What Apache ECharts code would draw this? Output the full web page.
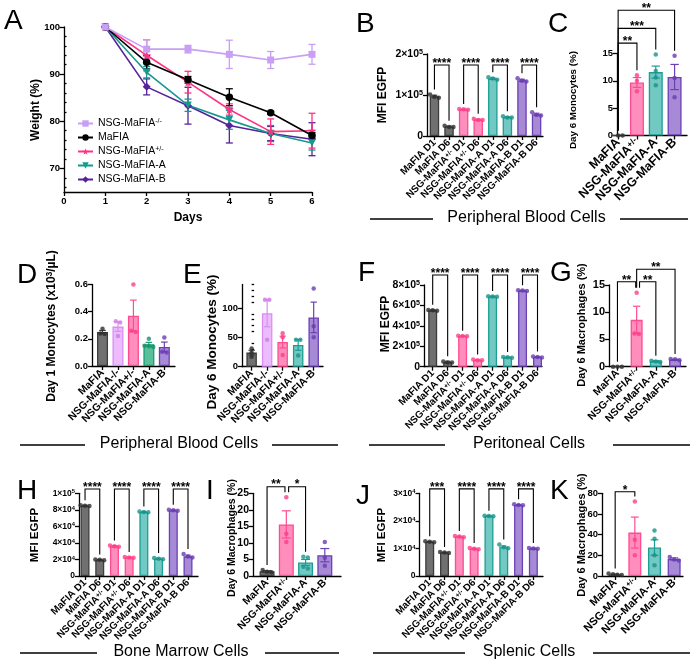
<!DOCTYPE html>
<html>
<head>
<meta charset="utf-8">
<script src="https://cdn.jsdelivr.net/npm/echarts@6/dist/echarts.min.js"></script>
<style>
  html, body { margin: 0; padding: 0; background: #fff; }
  #main { width: 691px; height: 665px; }
</style>
</head>
<body>
<div id="main"></div>
<script>
// ---- A: 体重变化 ----
const days = [1, 2, 3, 4, 5, 6];
const wKO = [100, 95.3, 95.3, 94.2, 93.0, 94.2];
const wKOErr = [0, 2.0, 0.8, 3.0, 1.8, 2.1];
const wMaFIA = [100, 92.5, 88.8, 85.1, 81.8, 77.0];
const wMaFIAErr = [0, 1.4, 0.7, 1.8, 0.3, 0.6];
const wHet = [100, 94.0, 88.3, 82.5, 77.8, 78.0];
const wHetErr = [0, 3.3, 2.3, 1.2, 2.7, 3.7];
const wA = [100, 90.4, 83.4, 80.3, 77.4, 75.4];
const wAErr = [0, 1.2, 1.3, 2.0, 1.7, 1.5];
const wB = [100, 87.3, 83.3, 79.1, 77.4, 76.2];
const wBErr = [0, 1.7, 3.9, 3.7, 1.5, 3.5];

// ---- 分类标签 ----
const catsPair = ['MaFIA D1', 'MaFIA D6', 'NSG-MaFIA{sup|+/-} D1', 'NSG-MaFIA{sup|+/-} D6',
  'NSG-MaFIA-A D1', 'NSG-MaFIA-A D6', 'NSG-MaFIA-B D1', 'NSG-MaFIA-B D6'];
const catsFour = ['MaFIA', 'NSG-MaFIA{sup|+/-}', 'NSG-MaFIA-A', 'NSG-MaFIA-B'];
const catsFive = ['MaFIA', 'NSG-MaFIA-/-', 'NSG-MaFIA+/-', 'NSG-MaFIA-A', 'NSG-MaFIA-B'];

// ---- B: 外周血 MFI ----
const pbMfiMean = [97000, 23000, 65000, 40000, 140000, 46000, 136000, 53000];
const pbMfiSem = [2400, 1000, 700, 1000, 1800, 1000, 2400, 2500];
const pbMfiDots = [[101000, 96000, 93000], [25000, 22000, 22000], [66000, 64000, 65000], [42000, 39000, 39000],
  [143000, 140000, 137000], [48000, 45000, 45000], [141000, 135000, 133000], [58000, 51000, 50000]];
const pbMfiSig = [[0, 1, 173000, '****'], [2, 3, 173000, '****'], [4, 5, 173000, '****'], [6, 7, 173000, '****']];

// ---- C: 外周血 Day6 单核细胞 ----
const pbMonoMean = [0, 9.7, 11.6, 10.7];
const pbMonoSem = [0, 0.9, 1.1, 2.3];
const pbMonoDots = [[0, 0, 0], [11.0, 10.0, 8.1], [14.8, 11.8, 10.6, 9.2], [14.6, 10.5, 7.0]];
const pbMonoSig = [[0, 1, 16.9, '**'], [0, 2, 19.6, '***'], [0, 3, 22.9, '**']];

// ---- D: Day1 单核细胞 ----
const d1MonoMean = [0.25, 0.29, 0.37, 0.16, 0.14];
const d1MonoSem = [0.012, 0.035, 0.115, 0.014, 0.036];
const d1MonoDots = [[0.275, 0.24, 0.235], [0.33, 0.32, 0.22], [0.60, 0.26, 0.25], [0.20, 0.15, 0.145, 0.14], [0.21, 0.105, 0.10]];

// ---- E: Day6 单核细胞 ----
const d6MonoMean = [24, 91, 42, 37, 84];
const d6MonoSem = [4, 23, 10, 9, 26];
const d6MonoDots = [[31, 24, 17], [114, 114, 46], [57, 50, 20], [46, 46, 19], [133, 69, 50]];

// ---- F: 腹腔 MFI ----
const ptMfiMean = [552000, 45000, 300000, 65000, 688000, 92000, 745000, 95000];
const ptMfiSem = [5000, 8000, 3000, 3000, 4000, 3000, 4000, 3000];
const ptMfiDots = [[555000, 552000, 549000], [52000, 42000, 40000], [302000, 300000, 298000], [70000, 63000, 62000],
  [690000, 688000, 686000], [96000, 92000, 88000], [748000, 745000, 742000], [99000, 95000, 91000]];
const ptMfiSig = [[0, 1, 898000, '****'], [2, 3, 898000, '****'], [4, 5, 898000, '****'], [6, 7, 898000, '****']];

// ---- G: 腹腔巨噬细胞 ----
const ptMacMean = [0, 8.6, 1.0, 1.3];
const ptMacSem = [0, 2.5, 0.1, 0.06];
const ptMacDots = [[0, 0, 0], [13.6, 6.1, 6.0], [1.1, 0.95, 0.85], [1.4, 1.35, 1.2]];
const ptMacSig = [[0, 0.95, 15.6, '**'], [1.15, 2, 15.6, '**'], [1.0, 3, 17.9, '**']];

// ---- H: 骨髓 MFI ----
const bmMfiMean = [85000, 19500, 36000, 22500, 77500, 21000, 79500, 24000];
const bmMfiSem = [500, 500, 700, 500, 400, 600, 400, 1200];
const bmMfiDots = [[85500, 85000, 84500], [20000, 19500, 19000], [37000, 36000, 35500], [23000, 22500, 22000],
  [78000, 77500, 77000], [21800, 21000, 20300], [80000, 79500, 79000], [26500, 23500, 22500]];
const bmMfiSig = [[0, 1, 105200, '****'], [2, 3, 105200, '****'], [4, 5, 105200, '****'], [6, 7, 105200, '****']];

// ---- I: 骨髓巨噬细胞 ----
const bmMacMean = [1.4, 15.6, 4.1, 6.3];
const bmMacSem = [0.2, 4.1, 0.9, 2.0];
const bmMacDots = [[1.8, 1.3, 1.1], [23.8, 12.8, 10.3], [5.8, 5.6, 2.8, 2.3], [10.3, 5.5, 3.1]];
const bmMacSig = [[0, 0.93, 27, '**'], [1.12, 2, 27, '*']];

// ---- J: 脾脏 MFI ----
const spMfiMean = [12400, 8500, 14300, 9900, 21800, 10600, 25800, 10000];
const spMfiSem = [150, 150, 150, 200, 100, 300, 100, 150];
const spMfiDots = [[12600, 12400, 12200], [8700, 8500, 8300], [14500, 14300, 14100], [10200, 9900, 9700],
  [21900, 21800, 21700], [11400, 10400, 10100], [26000, 25800, 25700], [10200, 10000, 9900]];
const spMfiSig = [[0, 1, 31600, '***'], [2, 3, 31600, '****'], [4, 5, 31600, '****'], [6, 7, 31600, '****']];

// ---- K: 脾脏巨噬细胞 ----
const spMacMean = [1.6, 42, 27.5, 16.5];
const spMacSem = [0.3, 15, 7.5, 1.0];
const spMacDots = [[2.4, 1.6, 1.2, 1.0], [72, 35, 20], [44, 36, 20, 10.5], [18.5, 16, 15]];
const spMacSig = [[0, 1, 81.5, '*']];

// ---- 样式 ----
const FONT = '"Liberation Sans", Arial, Helvetica, sans-serif';
const AXIS = { color: '#000', width: 1.3 };
const C_GRAY = ['#707070', '#3d3d3d', '#2e2e2e']; // fill, border, dot
const C_KO = ['#ecbcff', '#d98ef3', '#cf7ce8'];
const C_HET = ['#ff8ebd', '#ff4b91', '#ff3c88'];
const C_A = ['#72c8c2', '#1b9e93', '#17958b'];
const C_A2 = ['#5cbf9b', '#1a9b72', '#17936b'];
const C_B = ['#a78ad6', '#6b40b4', '#6a3cb2'];
const palPair = [C_GRAY, C_GRAY, C_HET, C_HET, C_A, C_A, C_B, C_B];
const palFour = [C_GRAY, C_HET, C_A, C_B];
const palFive = [C_GRAY, C_KO, C_HET, C_A2, C_B];

const grids = [], xAxes = [], yAxes = [], series = [], graphics = [];

function supRich(size) {
  return { sup: { fontSize: Math.max(5.5, size * 0.68), fontWeight: 'bold', fontFamily: FONT, color: '#000', verticalAlign: 'top' } };
}
function sciFmt(v) { // 1×10^5 形式
  if (v === 0) return '0';
  const e = Math.floor(Math.log10(v) + 1e-9);
  return Math.round(v / Math.pow(10, e)) + '×10{sup|' + e + '}';
}
function jitter(vals, range, unitPx) { // 点的水平散布
  const order = vals.map((v, i) => [v, i]).sort((a, b) => b[0] - a[0]);
  const off = new Array(vals.length).fill(0);
  const step = 4.4 / unitPx;
  let cl = [order[0]];
  const flush = () => { const k = cl.length; cl.forEach((o, j) => { off[o[1]] = (j - (k - 1) / 2) * step; }); };
  for (let j = 1; j < order.length; j++) {
    if (cl[cl.length - 1][0] - order[j][0] < range * 0.045) cl.push(order[j]);
    else { flush(); cl = [order[j]]; }
  }
  flush();
  return off;
}
function yName(text, cx, cy, size) { // 竖排坐标轴标题
  graphics.push({
    type: 'text', x: cx, y: cy, rotation: Math.PI / 2,
    style: {
      text: text, fill: '#000', fontSize: size, fontWeight: 'bold', fontFamily: FONT,
      align: 'center', verticalAlign: 'middle',
      rich: { sup: { fontSize: size * 0.68, fontWeight: 'bold', fontFamily: FONT, fill: '#000', verticalAlign: 'top' } }
    }
  });
}

function barPanel(p) {
  const gi = grids.length;
  const w = p.right - p.left;
  grids.push({ left: p.left, top: p.top, width: w, height: p.bottom - p.top, containLabel: false, outerBoundsMode: 'none' });
  const unitPx = w / (p.xMax - p.xMin);
  const idx = p.cats.map((c, i) => i);
  const xi = xAxes.length;
  xAxes.push({
    type: 'value', gridIndex: gi, min: p.xMin, max: p.xMax,
    axisLine: { onZero: false, lineStyle: AXIS },
    axisTick: { customValues: idx, length: 4, lineStyle: AXIS },
    axisLabel: {
      customValues: idx, rotate: 45, margin: 5, formatter: v => p.cats[v],
      showMinLabel: true, showMaxLabel: true, hideOverlap: false,
      fontSize: p.catFont, fontWeight: 'bold', fontFamily: FONT, color: '#000', rich: supRich(p.catFont)
    },
    splitLine: { show: false }
  });
  const yi = yAxes.length;
  yAxes.push({
    type: 'value', gridIndex: gi, min: 0, max: p.yMax,
    axisLine: { onZero: false, lineStyle: AXIS },
    axisTick: { customValues: p.yTicks, length: 4, lineStyle: AXIS },
    axisLabel: {
      customValues: p.yTicks, margin: 4, formatter: p.yFmt, showMinLabel: true, showMaxLabel: true,
      fontSize: p.tickFont, fontWeight: 'bold', fontFamily: FONT, color: '#000', rich: supRich(p.tickFont)
    },
    splitLine: { show: false }
  });
  if (p.yMinor) {
    yAxes.push({
      type: 'value', gridIndex: gi, min: 0, max: p.yMax,
      axisLine: { show: false }, axisLabel: { show: false }, splitLine: { show: false },
      axisTick: { customValues: p.yMinor, length: 2.5, lineStyle: AXIS }
    });
  }
  yName(p.name, p.nameAt[0], p.nameAt[1], p.nameFont);
  const pal = p.pal;
  // 柱子
  series.push({
    type: 'bar', xAxisIndex: xi, yAxisIndex: yi, barWidth: p.barW, z: 2,
    data: p.mean.map((m, i) => ({ value: [i, m], itemStyle: { color: pal[i][0], borderColor: pal[i][1], borderWidth: 1.3 } }))
  });
  // 误差线
  const cap = p.barW * 0.3;
  series.push({
    type: 'custom', xAxisIndex: xi, yAxisIndex: yi, z: 3,
    data: p.mean.map((m, i) => [i, m, p.sem[i]]),
    renderItem: (params, api) => {
      const i = api.value(0), m = api.value(1), e = api.value(2);
      if (!e) return null;
      const hi = api.coord([i, m + e]), lo = api.coord([i, m - e]);
      const st = { stroke: pal[i][1], lineWidth: 1.2 };
      return { type: 'group', children: [
        { type: 'line', shape: { x1: hi[0], y1: hi[1], x2: lo[0], y2: lo[1] }, style: st },
        { type: 'line', shape: { x1: hi[0] - cap, y1: hi[1], x2: hi[0] + cap, y2: hi[1] }, style: st },
        { type: 'line', shape: { x1: lo[0] - cap, y1: lo[1], x2: lo[0] + cap, y2: lo[1] }, style: st }
      ] };
    }
  });
  // 散点
  const dots = [];
  p.dots.forEach((vals, i) => {
    const off = jitter(vals, p.yMax, unitPx);
    vals.forEach((v, j) => dots.push({ value: [i + off[j], v], itemStyle: { color: pal[i][2] } }));
  });
  series.push({ type: 'scatter', xAxisIndex: xi, yAxisIndex: yi, symbol: 'circle', symbolSize: 4.5, z: 4, data: dots });
  // 显著性标记
  if (p.sig) {
    const tops = p.mean.map((m, i) => Math.max(m + p.sem[i], ...p.dots[i]));
    series.push({
      type: 'custom', xAxisIndex: xi, yAxisIndex: yi, z: 5, clip: false,
      data: p.sig.map(r => [r[0], r[1], r[2]]),
      renderItem: (params, api) => {
        const r = p.sig[params.dataIndex];
        const a = api.coord([r[0], r[2]]), b = api.coord([r[1], r[2]]);
        const e1 = Math.max(api.coord([r[0], tops[Math.round(r[0])]])[1] - 5, a[1] + 3);
        const e2 = Math.max(api.coord([r[1], tops[Math.round(r[1])]])[1] - 5, a[1] + 3);
        return { type: 'group', children: [
          { type: 'polyline', shape: { points: [[a[0], e1], [a[0], a[1]], [b[0], b[1]], [b[0], e2]] },
            style: { stroke: '#000', lineWidth: 1.1, fill: null } },
          { type: 'text', x: (a[0] + b[0]) / 2, y: a[1] + 4.5,
            style: { text: r[3], align: 'center', verticalAlign: 'bottom', font: 'bold 12px ' + FONT, fill: '#000' } }
        ] };
      }
    });
  }
}

// ---- A 面板 ----
(function () {
  const gi = grids.length;
  grids.push({ left: 64, top: 27, width: 248, height: 165, containLabel: false, outerBoundsMode: 'none' });
  const xi = xAxes.length;
  xAxes.push({
    type: 'value', gridIndex: gi, min: 0, max: 6, interval: 1,
    name: 'Days', nameLocation: 'middle', nameGap: 20,
    nameTextStyle: { fontSize: 12, fontWeight: 'bold', fontFamily: FONT, color: '#000' },
    axisLine: { onZero: false, lineStyle: AXIS }, axisTick: { length: 4, lineStyle: AXIS },
    axisLabel: { fontSize: 9.5, fontWeight: 'bold', fontFamily: FONT, color: '#000', margin: 4, showMinLabel: true, showMaxLabel: true },
    splitLine: { show: false }
  });
  const yi = yAxes.length;
  yAxes.push({
    type: 'value', gridIndex: gi, min: 65, max: 100,
    axisLine: { onZero: false, lineStyle: AXIS },
    axisTick: { customValues: [70, 80, 90, 100], length: 4.5, lineStyle: AXIS },
    axisLabel: { customValues: [70, 80, 90, 100], fontSize: 9.5, fontWeight: 'bold', fontFamily: FONT, color: '#000', margin: 4 },
    splitLine: { show: false }
  });
  yAxes.push({
    type: 'value', gridIndex: gi, min: 65, max: 100,
    axisLine: { show: false }, axisLabel: { show: false }, splitLine: { show: false },
    axisTick: { customValues: [66, 68, 72, 74, 76, 78, 82, 84, 86, 88, 92, 94, 96, 98], length: 2.5, lineStyle: AXIS }
  });
  yName('Weight (%)', 36, 110, 12);
  const groups = [
    ['NSG-MaFIA-/-', wKO, wKOErr, '#c89ff5', 'rect', 7, 0],
    ['MaFIA', wMaFIA, wMaFIAErr, '#000000', 'circle', 7.5, 0],
    ['NSG-MaFIA+/-', wHet, wHetErr, '#ff3283', 'path://M12,0 L14.9,8.6 L24,8.7 L16.7,14.1 L19.4,22.8 L12,17.6 L4.6,22.8 L7.3,14.1 L0,8.7 L9.1,8.6 Z', 9, 0],
    ['NSG-MaFIA-A', wA, wAErr, '#16998f', 'triangle', 7.5, 180],
    ['NSG-MaFIA-B', wB, wBErr, '#56239a', 'diamond', 8, 0]
  ];
  groups.slice().reverse().forEach(g => {
    series.push({
      type: 'custom', xAxisIndex: xi, yAxisIndex: yi, z: 2,
      data: days.map((d, i) => [d, g[1][i], g[2][i]]),
      renderItem: (params, api) => {
        const x = api.value(0), m = api.value(1), e = api.value(2);
        if (!e) return null;
        const hi = api.coord([x, m + e]), lo = api.coord([x, m - e]);
        const st = { stroke: g[3], lineWidth: 1.3 };
        return { type: 'group', children: [
          { type: 'line', shape: { x1: hi[0], y1: hi[1], x2: lo[0], y2: lo[1] }, style: st },
          { type: 'line', shape: { x1: hi[0] - 3.5, y1: hi[1], x2: hi[0] + 3.5, y2: hi[1] }, style: st },
          { type: 'line', shape: { x1: lo[0] - 3.5, y1: lo[1], x2: lo[0] + 3.5, y2: lo[1] }, style: st }
        ] };
      }
    });
    series.push({
      name: g[0], type: 'line', xAxisIndex: xi, yAxisIndex: yi, z: 3,
      data: days.map((d, i) => [d, g[1][i]]),
      symbol: g[4], symbolSize: g[5], symbolRotate: g[6], showAllSymbol: true,
      lineStyle: { color: g[3], width: 1.6 }, itemStyle: { color: g[3] }
    });
  });
})();

const legendLabels = {
  'NSG-MaFIA-/-': 'NSG-MaFIA{s|-/-}', 'MaFIA': 'MaFIA', 'NSG-MaFIA+/-': 'NSG-MaFIA{s|+/-}',
  'NSG-MaFIA-A': 'NSG-MaFIA-A', 'NSG-MaFIA-B': 'NSG-MaFIA-B'
};

// ---- 柱状面板 ----
barPanel({ left: 427, right: 543, top: 54, bottom: 136, xMin: -0.51, xMax: 7.44, yMax: 200000,
  yTicks: [0, 100000, 200000], yFmt: sciFmt, cats: catsPair, pal: palPair, barW: 9.5,
  mean: pbMfiMean, sem: pbMfiSem, dots: pbMfiDots, sig: pbMfiSig,
  name: 'MFI EGFP', nameAt: [383, 95], nameFont: 12, tickFont: 10.5, catFont: 10 });
barPanel({ left: 617, right: 687, top: 53.5, bottom: 135.5, xMin: -0.06, xMax: 3.66, yMax: 15,
  yTicks: [0, 5, 10, 15], yFmt: v => String(v), cats: catsFour, pal: palFour, barW: 14,
  mean: pbMonoMean, sem: pbMonoSem, dots: pbMonoDots, sig: pbMonoSig,
  name: 'Day 6 Monocytes (%)', nameAt: [573, 100], nameFont: 9.8, tickFont: 9.5, catFont: 12.5 });
barPanel({ left: 92, right: 175, top: 284.5, bottom: 366, xMin: -0.68, xMax: 4.69, yMax: 0.6,
  yTicks: [0, 0.2, 0.4, 0.6], yFmt: v => v.toFixed(1), cats: catsFive, pal: palFive, barW: 11,
  mean: d1MonoMean, sem: d1MonoSem, dots: d1MonoDots,
  name: 'Day 1 Monocytes (x10{sup|3}/µL)', nameAt: [52, 326], nameFont: 12, tickFont: 9.5, catFont: 10.5 });
barPanel({ left: 242, right: 323, top: 284.5, bottom: 366.7, xMin: -0.62, xMax: 4.6, yMax: 140,
  yTicks: [0, 50, 100], yMinor: [10, 20, 30, 40, 60, 70, 80, 90, 110, 120, 130, 140], yFmt: v => String(v),
  cats: catsFive, pal: [C_GRAY, C_KO, C_HET, C_A, C_B], barW: 10.5,
  mean: d6MonoMean, sem: d6MonoSem, dots: d6MonoDots,
  name: 'Day 6 Monocytes (%)', nameAt: [212, 342], nameFont: 13.5, tickFont: 9.5, catFont: 10.5 });
barPanel({ left: 424, right: 542, top: 285, bottom: 366.7, xMin: -0.58, xMax: 7.3, yMax: 800000,
  yTicks: [0, 200000, 400000, 600000, 800000], yFmt: sciFmt, cats: catsPair, pal: palPair, barW: 9,
  mean: ptMfiMean, sem: ptMfiSem, dots: ptMfiDots, sig: ptMfiSig,
  name: 'MFI EGFP', nameAt: [386, 324], nameFont: 12, tickFont: 10.5, catFont: 10 });
barPanel({ left: 609, right: 686, top: 285, bottom: 366.7, xMin: -0.44, xMax: 3.57, yMax: 15,
  yTicks: [0, 5, 10, 15], yFmt: v => String(v), cats: catsFour, pal: palFour, barW: 12,
  mean: ptMacMean, sem: ptMacSem, dots: ptMacDots, sig: ptMacSig,
  name: 'Day 6 Macrophages (%)', nameAt: [582, 325], nameFont: 11, tickFont: 11, catFont: 10.5 });
barPanel({ left: 79, right: 198, top: 493.3, bottom: 576, xMin: -0.41, xMax: 7.68, yMax: 100000,
  yTicks: [0, 20000, 40000, 60000, 80000, 100000], yFmt: sciFmt, cats: catsPair, pal: palPair, barW: 9,
  mean: bmMfiMean, sem: bmMfiSem, dots: bmMfiDots, sig: bmMfiSig,
  name: 'MFI EGFP', nameAt: [35, 535], nameFont: 11.5, tickFont: 8.5, catFont: 10 });
barPanel({ left: 253, right: 341, top: 493.3, bottom: 576, xMin: -0.73, xMax: 3.84, yMax: 25,
  yTicks: [0, 5, 10, 15, 20, 25], yFmt: v => String(v), cats: catsFour, pal: palFour, barW: 15,
  mean: bmMacMean, sem: bmMacSem, dots: bmMacDots, sig: bmMacSig,
  name: 'Day 6 Macrophages (%)', nameAt: [232, 538], nameFont: 10.5, tickFont: 10.5, catFont: 10.5 });
barPanel({ left: 419.5, right: 543, top: 493.3, bottom: 576, xMin: -0.69, xMax: 7.65, yMax: 30000,
  yTicks: [0, 10000, 20000, 30000], yFmt: sciFmt, cats: catsPair, pal: palPair, barW: 9,
  mean: spMfiMean, sem: spMfiSem, dots: spMfiDots, sig: spMfiSig,
  name: 'MFI EGFP', nameAt: [382, 535], nameFont: 11.5, tickFont: 8.5, catFont: 10 });
barPanel({ left: 602, right: 683, top: 493.3, bottom: 576, xMin: -0.67, xMax: 3.45, yMax: 80,
  yTicks: [0, 20, 40, 60, 80], yFmt: v => String(v), cats: catsFour, pal: palFour, barW: 13,
  mean: spMacMean, sem: spMacSem, dots: spMacDots, sig: spMacSig,
  name: 'Day 6 Macrophages (%)', nameAt: [582, 535], nameFont: 11, tickFont: 9.5, catFont: 11 });

// ---- 字母与分组标题 ----
[['A', 4, 18], ['B', 356, 21], ['C', 548, 21], ['D', 17, 272], ['E', 183, 272], ['F', 358, 270],
 ['G', 550, 270], ['H', 17, 488], ['I', 206, 488], ['J', 356, 493], ['K', 550, 488]].forEach(l => {
  graphics.push({ type: 'text', left: l[1], top: l[2] - 11,
    style: { text: l[0], font: '28px ' + FONT, fill: '#000' } });
});
[['Peripheral Blood Cells', 526.5, 218, [370, 433], [620, 688]],
 ['Peripheral Blood Cells', 179, 444, [20, 85], [272, 338]],
 ['Peritoneal Cells', 529, 444, [369, 445], [613, 690]],
 ['Bone Marrow Cells', 181, 652, [20, 97], [265, 339]],
 ['Splenic Cells', 529, 652, [373, 465], [593, 690]]].forEach(s => {
  graphics.push({ type: 'text', x: s[1], y: s[2],
    style: { text: s[0], font: '16px ' + FONT, fill: '#000', align: 'center', verticalAlign: 'middle' } });
  [s[3], s[4]].forEach(seg => graphics.push({ type: 'line',
    shape: { x1: seg[0], y1: s[2] + 1, x2: seg[1], y2: s[2] + 1 }, style: { stroke: '#000', lineWidth: 1.3 } }));
});

const chart = echarts.init(document.getElementById('main'), null, { renderer: 'canvas' });
chart.setOption({
  backgroundColor: '#fff',
  animation: false,
  textStyle: { fontFamily: FONT },
  legend: {
    data: ['NSG-MaFIA-/-', 'MaFIA', 'NSG-MaFIA+/-', 'NSG-MaFIA-A', 'NSG-MaFIA-B'],
    orient: 'vertical', left: 72, top: 113, itemWidth: 15, itemHeight: 8, itemGap: 3,
    formatter: n => legendLabels[n],
    textStyle: { fontSize: 10.5, fontFamily: FONT, color: '#000',
      rich: { s: { fontSize: 7, fontFamily: FONT, color: '#000', verticalAlign: 'top' } } }
  },
  grid: grids,
  xAxis: xAxes,
  yAxis: yAxes,
  series: series,
  graphic: graphics
});
</script>
</body>
</html>
